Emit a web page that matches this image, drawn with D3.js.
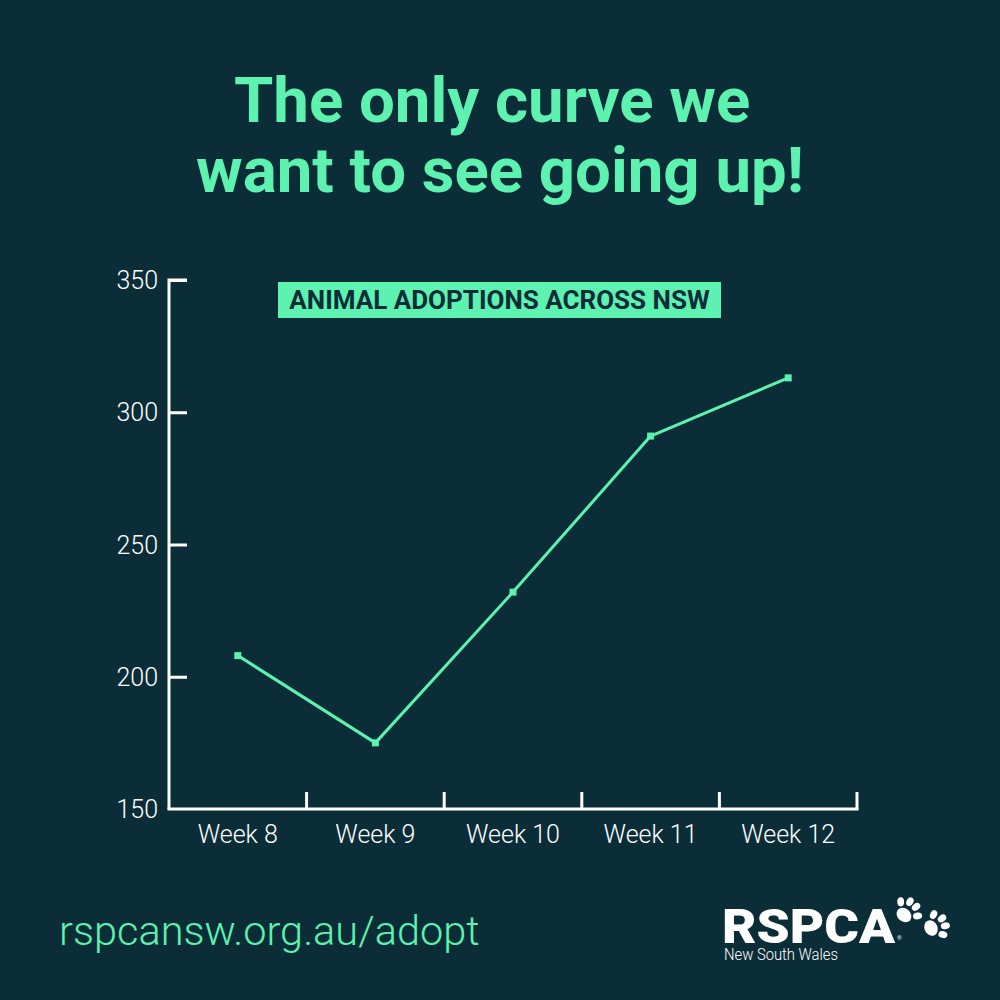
<!DOCTYPE html>
<html>
<head>
<meta charset="utf-8">
<script src="https://cdn.jsdelivr.net/npm/d3@7"></script>
<style>
html,body{margin:0;padding:0;background:#0b2d38;}
svg{display:block;}
</style>
</head>
<body>
<svg id="chart" width="1000" height="1000"></svg>
<script>
const weeks = ["Week 8", "Week 9", "Week 10", "Week 11", "Week 12"];
const adoptions = [208, 175, 232, 291, 313];
const yTicks = [150, 200, 250, 300, 350];
const titleLines = ["The only curve we ", "want to see going up!"];
const legendLabel = "ANIMAL ADOPTIONS ACROSS NSW";
const footerUrl = "rspcansw.org.au/adopt";

const GREEN = "#5df2b0";
const BG = "#0b2d38";
const WHITE = "#ffffff";

const svg = d3.select("#chart");
svg.append("rect").attr("width", 1000).attr("height", 1000).attr("fill", BG);

// Title
svg.append("g").selectAll("text").data(titleLines).join("text")
  .attr("x", 500).attr("y", (d, i) => 122 + i * 70)
  .attr("text-anchor", "middle")
  .style("white-space", "pre")
  .attr("font-family", "Roboto").attr("font-weight", 700).attr("font-size", 63.5)
  .attr("fill", GREEN).text(d => d);

const x = d3.scaleBand().domain(weeks).range([169, 857]);
const y = d3.scaleLinear().domain([150, 350]).range([809, 280]);

// Y axis
const yAxis = svg.append("g").attr("transform", "translate(169,0)")
  .call(d3.axisRight(y).tickValues(yTicks).tickSize(18).tickFormat(""));
yAxis.select(".domain").attr("d", `M18,${y(350)}H0V${y(150)}`);
yAxis.selectAll("line").attr("stroke", WHITE).attr("stroke-width", 3);
yAxis.select(".domain").attr("stroke", WHITE).attr("stroke-width", 3).attr("fill", "none");
yAxis.selectAll(".tick").filter(d => d === 150).select("line").remove();

svg.append("g").selectAll("text").data(yTicks).join("text")
  .attr("x", 158).attr("y", d => y(d) + 9)
  .attr("text-anchor", "end")
  .attr("font-family", "Roboto").attr("font-weight", 300).attr("font-size", 25)
  .attr("fill", WHITE).text(d => d);

// X axis
const bounds = weeks.map(w => x(w) + x.bandwidth());
const xAxis = svg.append("g").attr("transform", `translate(0,${y(150)})`);
xAxis.append("line").attr("x1", 167.5).attr("x2", 858.5).attr("y1", 0).attr("y2", 0)
  .attr("stroke", WHITE).attr("stroke-width", 3);
xAxis.selectAll("line.tick").data(bounds).join("line").attr("class", "tick")
  .attr("x1", d => d).attr("x2", d => d).attr("y1", 0).attr("y2", -17)
  .attr("stroke", WHITE).attr("stroke-width", 3);
xAxis.selectAll("text").data(weeks).join("text")
  .attr("x", d => x(d) + x.bandwidth() / 2).attr("y", 34)
  .attr("text-anchor", "middle")
  .attr("font-family", "Roboto").attr("font-weight", 300).attr("font-size", 25)
  .attr("fill", WHITE).text(d => d);

// Line
const line = d3.line()
  .x((d, i) => x(weeks[i]) + x.bandwidth() / 2)
  .y(d => y(d));
svg.append("path").datum(adoptions).attr("d", line)
  .attr("fill", "none").attr("stroke", GREEN).attr("stroke-width", 3)
  .attr("stroke-linejoin", "round");
svg.append("g").selectAll("rect").data(adoptions).join("rect")
  .attr("x", (d, i) => x(weeks[i]) + x.bandwidth() / 2 - 3.5)
  .attr("y", d => y(d) - 3.5)
  .attr("width", 7).attr("height", 7).attr("fill", GREEN);

// Legend box
svg.append("rect").attr("x", 278).attr("y", 282).attr("width", 443).attr("height", 36)
  .attr("fill", GREEN);
svg.append("text").attr("x", 499.5).attr("y", 309).attr("text-anchor", "middle")
  .attr("font-family", "Roboto").attr("font-weight", 700).attr("font-size", 26)
  .attr("fill", BG).text(legendLabel);

// Footer URL
svg.append("text").attr("x", 59).attr("y", 945)
  .attr("font-family", "Roboto").attr("font-weight", 300).attr("font-size", 41.5)
  .attr("fill", GREEN).text(footerUrl);

// Logo
const logo = svg.append("g");
logo.append("text").attr("x", 722).attr("y", 943)
  .attr("font-family", "Roboto").attr("font-weight", 900).attr("font-size", 49)
  .attr("textLength", 173).attr("lengthAdjust", "spacingAndGlyphs")
  .attr("fill", WHITE).text("RSPCA");
logo.append("text").attr("x", 897).attr("y", 940)
  .attr("font-family", "Roboto").attr("font-size", 6).attr("fill", WHITE).text("®");
logo.append("text").attr("x", 724).attr("y", 960)
  .attr("font-family", "Roboto").attr("font-weight", 300).attr("font-size", 16)
  .attr("textLength", 114).attr("lengthAdjust", "spacingAndGlyphs")
  .attr("fill", WHITE).text("New South Wales");

function paw(cx, cy, rot) {
  const g = logo.append("g").attr("transform", `translate(${cx},${cy}) rotate(${rot})`).attr("fill", WHITE);
  g.append("ellipse").attr("cx", 0).attr("cy", 0).attr("rx", 8).attr("ry", 6.5);
  [[-11, -8, -40], [-4, -14, -12], [4, -14, 12], [11, -8, 40]].forEach(t => {
    g.append("ellipse").attr("cx", t[0]).attr("cy", t[1]).attr("rx", 3.4).attr("ry", 4.6)
      .attr("transform", `rotate(${t[2]},${t[0]},${t[1]})`);
  });
}
paw(904, 915, 40);
paw(931, 928, 65);
</script>
</body>
</html>
